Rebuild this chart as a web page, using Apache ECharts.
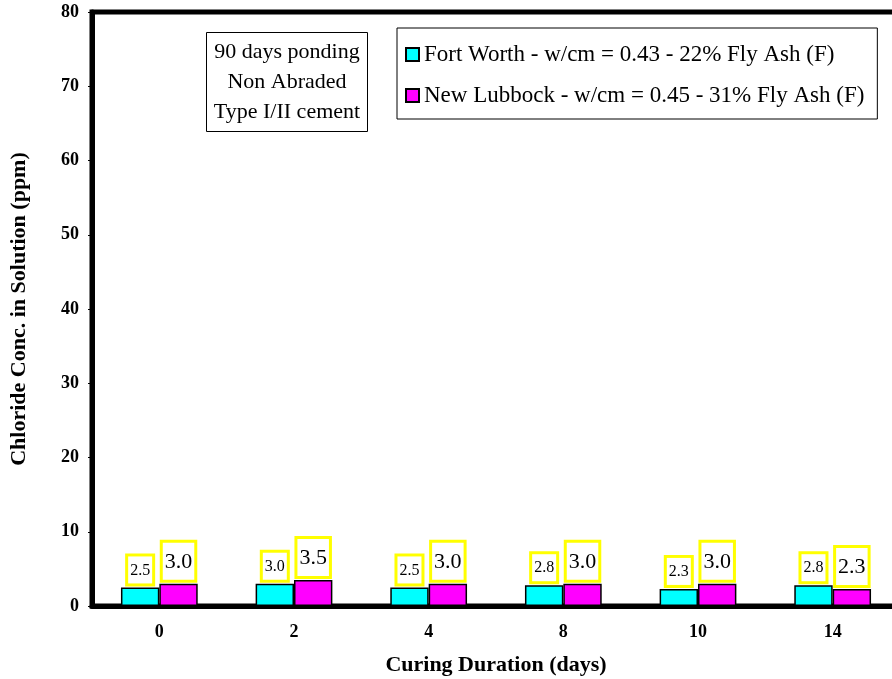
<!DOCTYPE html>
<html>
<head>
<meta charset="utf-8">
<script src="https://cdn.jsdelivr.net/npm/echarts@6/dist/echarts.min.js"></script>
<style>
    html, body { margin: 0; padding: 0; background: #fff; }
    #chloride { width: 892px; height: 679px; }
</style>
</head>
<body>
<div id="chloride"></div>
<script>
var curingDays = ['0', '2', '4', '8', '10', '14'];
var fortWorth = [2.5, 3.0, 2.5, 2.8, 2.3, 2.8];
var newLubbock = [3.0, 3.5, 3.0, 3.0, 3.0, 2.3];
var seriesNames = ['Fort Worth - w/cm = 0.43 - 22% Fly Ash (F)', 'New Lubbock - w/cm = 0.45 - 31% Fly Ash (F)'];
var noteLines = ['90 days ponding', 'Non Abraded', 'Type I/II cement'];

var serif = 'Liberation Serif';

function boxLabel(size, pad) {
    return {
        show: true,
        position: 'top',
        distance: 4,
        formatter: function (p) { return p.value.toFixed(1); },
        fontFamily: serif,
        fontSize: size,
        lineHeight: size,
        color: '#000',
        backgroundColor: '#fff',
        borderColor: '#ffff00',
        borderWidth: 3,
        padding: pad
    };
}

var chart = echarts.init(document.getElementById('chloride'));
var option = {
    animation: false,
    title: {
        text: noteLines.join('\n'),
        left: 279,
        top: 32,
        textAlign: 'center',
        padding: [5, 8, 5, 8],
        borderColor: '#000',
        borderWidth: 1,
        backgroundColor: '#fff',
        textStyle: {
            fontFamily: serif,
            fontSize: 22,
            fontWeight: 'normal',
            lineHeight: 30,
            color: '#000'
        }
    },
    legend: {
        data: seriesNames,
        orient: 'vertical',
        left: 397,
        top: 28,
        padding: [15, 13, 12, 8],
        itemWidth: 13,
        itemHeight: 13,
        itemGap: 18,
        icon: 'rect',
        backgroundColor: '#fff',
        borderColor: '#000',
        borderWidth: 1,
        textStyle: { fontFamily: serif, fontSize: 23, color: '#000' }
    },
    grid: {
        left: 92,
        top: 12,
        right: -8,
        bottom: 73,
        outerBoundsMode: 'none',
        show: true,
        borderColor: '#000',
        borderWidth: 5
    },
    xAxis: {
        type: 'category',
        data: curingDays,
        name: 'Curing Duration (days)',
        nameLocation: 'middle',
        nameGap: 48,
        nameTextStyle: { fontFamily: serif, fontSize: 22, fontWeight: 'bold', color: '#000' },
        axisLine: { lineStyle: { color: '#000', width: 5 } },
        axisTick: { show: false },
        axisLabel: { margin: 17, fontFamily: serif, fontSize: 18, fontWeight: 'bold', color: '#000' }
    },
    yAxis: {
        type: 'value',
        min: 0,
        max: 80,
        interval: 10,
        name: 'Chloride Conc. in Solution (ppm)',
        nameLocation: 'middle',
        nameGap: 62,
        nameTextStyle: { fontFamily: serif, fontSize: 22, fontWeight: 'bold', color: '#000' },
        axisLine: { show: true, lineStyle: { color: '#000', width: 5 } },
        axisTick: { show: true, length: 4, lineStyle: { color: '#000', width: 1 } },
        axisLabel: { margin: 13, fontFamily: serif, fontSize: 18, fontWeight: 'bold', color: '#000' },
        splitLine: { show: false }
    },
    series: [
        {
            name: seriesNames[0],
            type: 'bar',
            data: fortWorth,
            barGap: '0%',
            barCategoryGap: '43%',
            itemStyle: { color: '#00ffff', borderColor: '#000', borderWidth: 1.5 },
            label: boxLabel(16, [6, 2, 5, 2])
        },
        {
            name: seriesNames[1],
            type: 'bar',
            data: newLubbock,
            itemStyle: { color: '#ff00ff', borderColor: '#000', borderWidth: 1.5 },
            label: boxLabel(22, [8, 2, 7, 2])
        }
    ]
};
chart.setOption(option);
</script>
</body>
</html>
